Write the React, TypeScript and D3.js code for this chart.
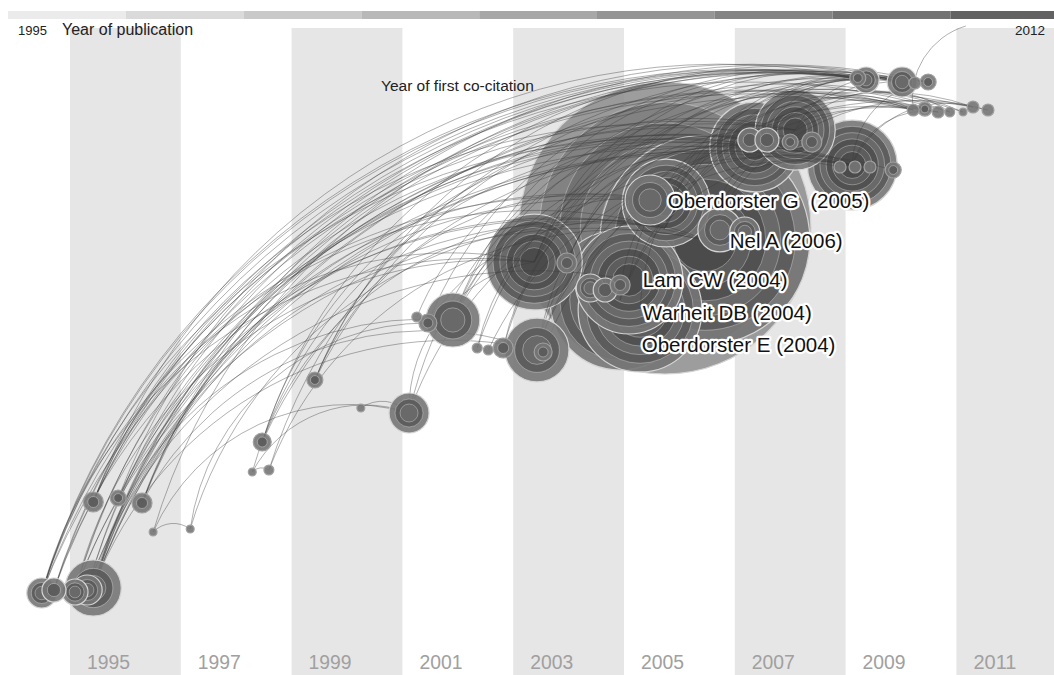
import React from "react";
import * as d3 from "d3";

// ---- data ----
const bandYears = [1995, 1997, 1999, 2001, 2003, 2005, 2007, 2009, 2011];
const headerStart = "1995";
const headerEnd = "2012";
const headerTitle = "Year of publication";
const coCitationTitle = "Year of first co-citation";

// nodes: [id, year (position), level (vertical), citations]
const nodes: [string, number, number, number][] = [
  ["A1", 1994.49, 4.7, 20],
  ["A2", 1994.71, 5.0, 12.8],
  ["A3", 1995.09, 4.8, 15.1],
  ["A4", 1995.42, 5.2, 70],
  ["A5", 1995.31, 5.0, 20],
  ["B1", 1995.42, 13.8, 8.9],
  ["B2", 1995.87, 14.2, 5.7],
  ["B3", 1996.3, 13.7, 8.9],
  ["B4", 1996.5, 10.8, 1.4],
  ["B5", 1997.17, 11.1, 1.4],
  ["C1", 1998.29, 16.8, 1.4],
  ["C2", 1998.59, 17.0, 2.2],
  ["C3", 1998.47, 19.8, 7.2],
  ["C4", 1999.42, 26.0, 5.7],
  ["C5", 2000.25, 23.2, 1.4],
  ["C6", 2001.12, 22.7, 35.6],
  ["D1", 2001.26, 32.3, 2.2],
  ["D2", 2001.46, 31.7, 7.2],
  ["D3", 2001.91, 32.0, 65],
  ["E1", 2002.35, 29.2, 2.2],
  ["E2", 2002.55, 29.0, 2.2],
  ["E3", 2002.82, 29.2, 8.9],
  ["E4", 2003.43, 29.0, 91],
  ["E5", 2003.54, 28.8, 7.2],
  ["F1", 2003.38, 37.8, 205],
  ["F2", 2003.97, 37.7, 8.9],
  ["G1", 2005.74, 41.2, 1900],
  ["G6", 2006.46, 40.0, 982],
  ["G5", 2004.93, 34.0, 437],
  ["G13", 2005.29, 33.0, 342],
  ["G4", 2005.09, 36.0, 260],
  ["G3", 2005.76, 43.7, 172],
  ["G7", 2005.47, 44.0, 55.7],
  ["G8", 2006.73, 41.0, 43],
  ["G9", 2007.18, 40.8, 20],
  ["G10", 2004.39, 35.2, 17.5],
  ["G11", 2004.66, 35.0, 12.8],
  ["G12", 2004.93, 35.5, 8.9],
  ["H6", 2008.09, 51.0, 143],
  ["H1", 2007.36, 49.3, 180],
  ["H2", 2007.27, 50.0, 12.8],
  ["H3", 2007.58, 50.0, 12.8],
  ["H4", 2008.0, 49.8, 5.7],
  ["H5", 2008.39, 49.8, 8.9],
  ["I1", 2009.12, 47.5, 180],
  ["I2", 2008.9, 47.3, 3.2],
  ["I3", 2009.17, 47.3, 3.2],
  ["I4", 2009.44, 47.3, 3.2],
  ["I5", 2009.86, 47.0, 5.7],
  ["J1", 2009.22, 56.2, 5.7],
  ["J2", 2009.37, 56.0, 15.1],
  ["J3", 2010.02, 55.8, 20],
  ["J4", 2010.25, 55.7, 3.2],
  ["J5", 2010.49, 55.8, 5.7],
  ["K1", 2010.22, 53.0, 3.2],
  ["K2", 2010.43, 53.1, 4.4],
  ["K3", 2010.67, 52.8, 3.2],
  ["K4", 2010.88, 52.8, 2.2],
  ["K5", 2011.12, 52.8, 1.4],
  ["K6", 2011.3, 53.3, 3.2],
  ["K7", 2011.57, 53.0, 3.2],
  ["Z", 2011.17, 61.4, 0],
];

// co-citation links: [source, target]
const links: [string, string][] = [
  ["A1", "J2"], ["A1", "J3"], ["A1", "H1"], ["A1", "G3"], ["A1", "F1"], ["A1", "K2"], ["A1", "I1"], ["A1", "J1"],
  ["A2", "J3"], ["A2", "H6"], ["A2", "G1"], ["A2", "K1"],
  ["A3", "J2"], ["A3", "H2"], ["A3", "G6"], ["A3", "F1"], ["A3", "I3"],
  ["A4", "J3"], ["A4", "J5"], ["A4", "H3"], ["A4", "H6"], ["A4", "G1"], ["A4", "G3"], ["A4", "I1"], ["A4", "K3"], ["A4", "D3"], ["A4", "E4"], ["A4", "K6"],
  ["A5", "J1"], ["A5", "H1"], ["A5", "G4"], ["A5", "I2"],
  ["B1", "J2"], ["B1", "H4"], ["B1", "G1"], ["B1", "F1"], ["B1", "K4"],
  ["B2", "J3"], ["B2", "G6"], ["B2", "I1"],
  ["B3", "J5"], ["B3", "H5"], ["B3", "G3"], ["B3", "E4"], ["B3", "K1"],
  ["B4", "B5"], ["B4", "C6"], ["B4", "J2"],
  ["B5", "D2"], ["B5", "G1"],
  ["C1", "C2"], ["C1", "C6"], ["C1", "H1"],
  ["C2", "G6"], ["C2", "J3"],
  ["C3", "J1"], ["C3", "H2"], ["C3", "G1"], ["C3", "I4"],
  ["C4", "J4"], ["C4", "H6"], ["C4", "G3"], ["C4", "K5"],
  ["C5", "C6"],
  ["C6", "F1"], ["C6", "I1"], ["C6", "J2"],
  ["D1", "H1"],
  ["D2", "J3"], ["D2", "G6"],
  ["D3", "J2"], ["D3", "H3"], ["D3", "I1"], ["D3", "K2"], ["D3", "G3"],
  ["E1", "H1"], ["E1", "J5"],
  ["E2", "I5"],
  ["E3", "J3"], ["E3", "H6"],
  ["E4", "J2"], ["E4", "I1"], ["E4", "K3"], ["E4", "H5"],
  ["E5", "K7"],
  ["F1", "J1"], ["F1", "J3"], ["F1", "H2"], ["F1", "I1"], ["F1", "K1"], ["F1", "K4"],
  ["F2", "J4"], ["F2", "H4"],
  ["G1", "J2"], ["G1", "K2"], ["G1", "J5"], ["G1", "K6"],
  ["G3", "J3"], ["G3", "K1"], ["G3", "K5"],
  ["G4", "J2"], ["G4", "I3"],
  ["G5", "H3"], ["G5", "K3"],
  ["G6", "J5"], ["G6", "K2"], ["G6", "K7"],
  ["G13", "J1"],
  ["H1", "J3"], ["H1", "K1"],
  ["H2", "J2"],
  ["H6", "J4"], ["H6", "K4"],
  ["I1", "K3"], ["I1", "K6"], ["I1", "J5"],
  ["K1", "Z"],
];

// labelled references: text, year (anchor), level (baseline)
const labelTexts = ["Oberdorster G\u00a0\u00a0(2005)", "Nel A (2006)", "Lam CW (2004)", "Warheit DB (2004)", "Oberdorster E (2004)"];
const labelYears = [2005.79, 2006.91, 2005.34, 2005.34, 2005.32];
const labelLevels = [43.2, 39.2, 35.3, 32.0, 28.8];

// ---- chart ----
const W = 1054;
const H = 675;

const x = d3.scaleLinear().domain([1995, 2011]).range([70, 956.4]);
const y = d3.scaleLinear().domain([0, 60]).range([640, 40]);
const r = d3.scaleSqrt().domain([0, 1900]).range([0, 146]);
const headerBand = d3.scaleBand<number>().domain(bandYears).range([8, 8 + 9 * 117.8]);
const headerColor = d3.scaleLinear<string>().domain([0, bandYears.length - 1]).range(["#ebebeb", "#626262"]);

const ringShades = ["#767676", "#5a5a5a", "#6a6a6a", "#4f4f4f", "#5e5e5e", "#494949"];
const FONT = "'Liberation Sans', Arial, sans-serif";

type N = { id: string; cx: number; cy: number; rad: number };

export default function App() {
  const nodeMap = new Map<string, N>();
  nodes.forEach(([id, yr, lv, c]) => {
    nodeMap.set(id, { id, cx: x(yr), cy: y(lv), rad: r(c) });
  });
  const sorted = Array.from(nodeMap.values())
    .filter((n) => n.rad > 0)
    .sort((a, b) => b.rad - a.rad);
  const bigNodes = sorted.filter((n) => n.rad >= 40);
  const smallNodes = sorted.filter((n) => n.rad < 40);

  const arcPath = (s: N, t: N) => {
    const d = Math.hypot(t.cx - s.cx, t.cy - s.cy);
    const R = d * 0.76;
    return `M${s.cx},${s.cy}A${R},${R} 0 0,1 ${t.cx},${t.cy}`;
  };

  const renderNode = (n: N) => {
    const fr =
      n.rad >= 40 ? [1, 0.86, 0.72, 0.58, 0.44, 0.3] : n.rad >= 12 ? [1, 0.7, 0.45] : n.rad >= 6 ? [1, 0.55] : [1];
    const giant = n.rad > 120;
    return (
      <g key={n.id}>
        {fr.map((f, i) => (
          <circle
            key={i}
            cx={n.cx}
            cy={n.cy}
            r={n.rad * f}
            fill={giant ? (i === 0 ? "#8f8f8f" : i % 2 ? "#7e7e7e" : "#707070") : ringShades[i % ringShades.length]}
            fillOpacity={giant ? 0.88 : 0.9}
            stroke={i === 0 ? (n.rad >= 10 ? "#d4d4d4" : "#a0a0a0") : "rgba(255,255,255,0.4)"}
            strokeWidth={i === 0 ? 1.2 : 0.8}
          />
        ))}
      </g>
    );
  };

  return (
    <svg width={W} height={H} style={{ position: "absolute", left: 0, top: 0, background: "#fff" }}>
      {/* vertical bands */}
      {bandYears.map((by, i) =>
        i % 2 === 0 ? (
          <rect key={by} x={x(by)} y={28} width={Math.min(x(by + 2), W) - x(by)} height={H - 28} fill="#e6e6e6" />
        ) : null
      )}
      {/* header bar */}
      {bandYears.map((by, i) => (
        <rect
          key={"h" + by}
          x={headerBand(by)}
          y={11}
          width={Math.max(0, Math.min(headerBand(by)! + headerBand.bandwidth(), W) - headerBand(by)!)}
          height={8}
          fill={headerColor(i)}
        />
      ))}
      <text x={18} y={35} fontFamily={FONT} fontSize={13} fill="#222">
        {headerStart}
      </text>
      <text x={62} y={35} fontFamily={FONT} fontSize={16} fill="#222">
        {headerTitle}
      </text>
      <text x={1045} y={35} textAnchor="end" fontFamily={FONT} fontSize={13.5} fill="#222">
        {headerEnd}
      </text>

      {/* big nodes */}
      {bigNodes.map(renderNode)}

      {/* links */}
      <g fill="none" stroke="#3c3c3c" strokeOpacity={0.4} strokeWidth={1}>
        {links.map(([s, t], i) => (
          <path key={i} d={arcPath(nodeMap.get(s)!, nodeMap.get(t)!)} />
        ))}
      </g>

      {/* small nodes */}
      {smallNodes.map(renderNode)}

      <text x={381} y={91} fontFamily={FONT} fontSize={15.5} fill="#222">
        {coCitationTitle}
      </text>

      {/* labels */}
      {labelTexts.map((t, i) => (
        <text
          key={t}
          x={x(labelYears[i])}
          y={y(labelLevels[i])}
          fontFamily={FONT}
          fontSize={20.5}
          fill="#111"
          stroke="#fff"
          strokeWidth={4.5}
          strokeLinejoin="round"
          paintOrder="stroke"
        >
          {t}
        </text>
      ))}

      {/* bottom year labels */}
      {bandYears.map((by) => (
        <text
          key={"b" + by}
          x={x(by) + 17}
          y={669}
          textLength={43}
          lengthAdjust="spacingAndGlyphs"
          fontFamily={FONT}
          fontSize={20}
          fill="#a0a0a0"
        >
          {by}
        </text>
      ))}
    </svg>
  );
}
